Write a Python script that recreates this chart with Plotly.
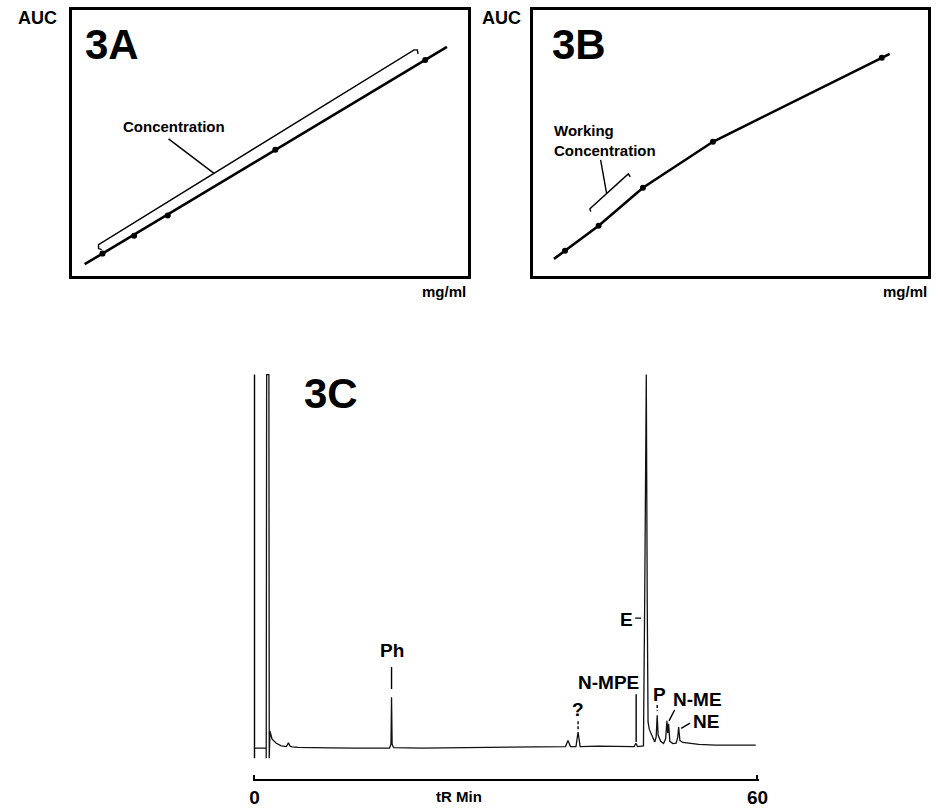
import plotly.graph_objects as go

W, H = 941, 808
FONT = "Liberation Sans, Arial, sans-serif"

# ---------------- data ----------------
# 3A : linear calibration (arbitrary units, the original shows no ticks)
conc_a = [7.7, 15.7, 24.2, 51.4, 89.3]
auc_a = [8.3, 15.0, 22.6, 47.4, 81.2]
conc_a_line = [3.2, 94.8]
auc_a_line = [4.3, 86.1]
bracket_a_x = [7.5, 6.7, 6.7, 86.5, 87.3, 87.5]
bracket_a_y = [9.8, 10.2, 11.7, 85.0, 85.0, 83.5]
leader_a_x = [35.9, 24.4]
leader_a_y = [38.5, 51.5]

# 3B : non-linear calibration
conc_b = [8.2, 16.7, 27.9, 45.6, 88.3]
auc_b = [9.4, 18.8, 33.1, 50.4, 82.0]
conc_b_line = [5.4, 8.2, 16.7, 27.9, 45.6, 88.3, 90.3]
auc_b_line = [6.3, 9.4, 18.8, 33.1, 50.4, 82.0, 83.5]
bracket_b_x = [14.7, 14.5, 24.2, 24.7]
bracket_b_y = [24.1, 25.2, 38.3, 37.2]
leader_b_x = [18.7, 17.2]
leader_b_y = [31.1, 43.6]

# 3C : chromatogram (retention time in min, detector signal, full scale = 100)
tr_min = [0, 1.40, 1.40, 1.45, 1.72, 1.76, 1.85, 2.1, 2.6, 3.2, 3.8, 4.05, 4.25, 4.5,
          5.2, 6.5, 9, 12, 16.1, 16.28, 16.35, 16.42, 16.6, 20, 24, 28, 32, 35, 37.1,
          37.4, 37.7, 38.35, 38.6, 38.85, 41, 45.3, 45.5, 45.7, 46.4, 46.55, 46.66,
          46.74, 46.85, 46.95, 47.1, 47.4, 47.75, 47.92, 48.04, 48.15, 48.45, 48.8,
          49.05, 49.2, 49.3, 49.4, 49.55, 49.9, 50.3, 50.5, 50.6, 50.75, 51.1, 51.8,
          53, 55, 57, 59.8]
signal = [0, 0, -2.7, 100, 100, -2.7, 4.5, 2.4, 1.3, 0.6, 0.4, 1.4, 0.5, 0.3,
          0.2, 0.1, 0.05, 0, 0, 1.0, 13.6, 1.0, 0.1, 0, 0.1, 0.2, 0.3, 0.3, 0.4,
          2.0, 0.4, 0.4, 4.3, 0.4, 0.5, 0.4, 1.3, 0.4, 0.6, 40, 100,
          100, 40, 7, 5, 3.2, 1.6, 3, 8.8, 3.5, 1.8, 1.2,
          2.5, 7.3, 4, 6.5, 1.8, 1.2, 1.3, 3, 5.6, 2, 1.5, 1.3,
          1.0, 0.8, 0.8, 0.8]
inject_t = [0, 0]
inject_s = [-2.7, 100]

peak_names = ["Ph", "?", "N-MPE", "E", "P", "N-ME", "NE"]
label_t = [16.35, 38.6, 42.2, 44.4, 48.3, 52.86, 53.88]
label_s = [26.2, 10.4, 17.6, 34.4, 14.3, 12.9, 7.0]
# leader lines (from label towards peak)
lead_t = [[16.35, 16.35], [38.6, 38.6], [45.53, 45.53], [45.41, 46.12],
          [48.04, 48.04], [49.45, 50.12], [50.9, 51.96]]
lead_s = [[21.7, 15.8], [7.2, 4.8], [14.4, 1.6], [34.8, 34.8],
          [11.5, 10.0], [7.3, 10.2], [5.3, 6.7]]
lead_dash = ["solid", "3px,2px", "solid", "solid", "3px,2px", "solid", "solid"]

time_ticks = [0, 60]
time_labels = ["0", "60"]

# ---------------- figure ----------------
fig = go.Figure()
blk = "black"

# 3A
fig.add_trace(go.Scatter(x=conc_a_line, y=auc_a_line, mode="lines",
                         line=dict(color=blk, width=2.6), xaxis="x", yaxis="y"))
fig.add_trace(go.Scatter(x=conc_a, y=auc_a, mode="markers",
                         marker=dict(color=blk, size=6), xaxis="x", yaxis="y"))
fig.add_trace(go.Scatter(x=bracket_a_x, y=bracket_a_y, mode="lines",
                         line=dict(color=blk, width=1.4), xaxis="x", yaxis="y"))
fig.add_trace(go.Scatter(x=leader_a_x, y=leader_a_y, mode="lines",
                         line=dict(color=blk, width=1.4), xaxis="x", yaxis="y"))

# 3B
fig.add_trace(go.Scatter(x=conc_b_line, y=auc_b_line, mode="lines",
                         line=dict(color=blk, width=2.6), xaxis="x2", yaxis="y2"))
fig.add_trace(go.Scatter(x=conc_b, y=auc_b, mode="markers",
                         marker=dict(color=blk, size=6), xaxis="x2", yaxis="y2"))
fig.add_trace(go.Scatter(x=bracket_b_x, y=bracket_b_y, mode="lines",
                         line=dict(color=blk, width=1.4), xaxis="x2", yaxis="y2"))
fig.add_trace(go.Scatter(x=leader_b_x, y=leader_b_y, mode="lines",
                         line=dict(color=blk, width=1.4), xaxis="x2", yaxis="y2"))

# 3C
fig.add_trace(go.Scatter(x=inject_t, y=inject_s, mode="lines",
                         line=dict(color=blk, width=1.4), xaxis="x3", yaxis="y3"))
fig.add_trace(go.Scatter(x=tr_min, y=signal, mode="lines",
                         line=dict(color="#111", width=1.3), xaxis="x3", yaxis="y3"))
for lt, ls, ld in zip(lead_t, lead_s, lead_dash):
    fig.add_trace(go.Scatter(x=lt, y=ls, mode="lines",
                             line=dict(color=blk, width=1.4, dash=ld),
                             xaxis="x3", yaxis="y3"))

# ---------------- axes ----------------
def box_axis(dom, anchor):
    return dict(domain=dom, range=[0, 100], showline=True, mirror=True, anchor=anchor,
                linecolor=blk, linewidth=3, showticklabels=False, ticks="",
                showgrid=False, zeroline=False, fixedrange=True)

ydom_top = [1 - 276 / H, 1 - 10 / H]
px_per_min = (764 - 254) / 60.0
px_per_unit = 3.74
s_top, s_bot = 100.5, -8.29
top_px = 749 - s_top * px_per_unit
bot_px = 749 - s_bot * px_per_unit

annotations = []

def ann(text, x, y, size, xanchor="center", yanchor="middle", xref="paper", yref="paper", align="center"):
    annotations.append(dict(text="<b>%s</b>" % text, x=x, y=y, xref=xref, yref=yref,
                            xanchor=xanchor, yanchor=yanchor, showarrow=False, align=align,
                            font=dict(family=FONT, size=size, color=blk)))

# panel titles and axis texts (paper coordinates)
ann("3A", 80 / W, 1 - 45 / H, 42, xanchor="left")
ann("3B", 554 / W, 1 - 45 / H, 42, xanchor="left")
ann("3C", 302 / W, 1 - 394 / H, 42, xanchor="left")
ann("AUC", 33.5 / W, 1 - 18.5 / H, 18)
ann("AUC", 504 / W, 1 - 18.5 / H, 18)
ann("mg/ml", 471 / W, 1 - 292 / H, 15, xanchor="right")
ann("mg/ml", 938 / W, 1 - 292 / H, 15, xanchor="right")
ann("tR Min", 461 / W, 1 - 797 / H, 15)

# in-panel texts (data coordinates)
ann("Concentration", 25.7, 56.0, 15, xref="x", yref="y")
ann("Working<br>Concentration", 4.8, 50.8, 15, xanchor="left", xref="x2", yref="y2", align="left")
for name, lt, ls in zip(peak_names, label_t, label_s):
    ann(name, lt, ls, 19, xref="x3", yref="y3")

fig.update_layout(
    width=W, height=H, margin=dict(l=0, r=0, t=0, b=0), autosize=False,
    paper_bgcolor="white", plot_bgcolor="white", showlegend=False,
    font=dict(family=FONT, color=blk),
    xaxis=box_axis([69 / W, 470 / W], "y"),
    yaxis=box_axis(ydom_top, "x"),
    xaxis2=box_axis([536 / W, 937 / W], "y2"),
    yaxis2=box_axis(ydom_top, "x2"),
    xaxis3=dict(domain=[(254 - 0.2 * px_per_min) / W, (764 + 0.2 * px_per_min) / W],
                range=[-0.2, 60.2], showline=True, linecolor=blk, linewidth=1.5,
                ticks="inside", ticklen=4, tickwidth=1.5, tickcolor=blk,
                tickvals=time_ticks, ticktext=["<b>%s</b>" % t for t in time_labels],
                tickfont=dict(family=FONT, size=19, color=blk),
                showgrid=False, zeroline=False, fixedrange=True, anchor="y3"),
    yaxis3=dict(domain=[1 - bot_px / H, 1 - top_px / H], range=[s_bot, s_top],
                visible=False, showgrid=False, zeroline=False, fixedrange=True, anchor="x3"),
    annotations=annotations,
)

post = """
document.documentElement.style.margin='0px';
document.body.style.margin='0px';
document.documentElement.style.overflow='hidden';
document.body.style.overflow='hidden';
"""
fig.write_html("out.html", post_script=post,
               config={"displayModeBar": False, "responsive": False})
